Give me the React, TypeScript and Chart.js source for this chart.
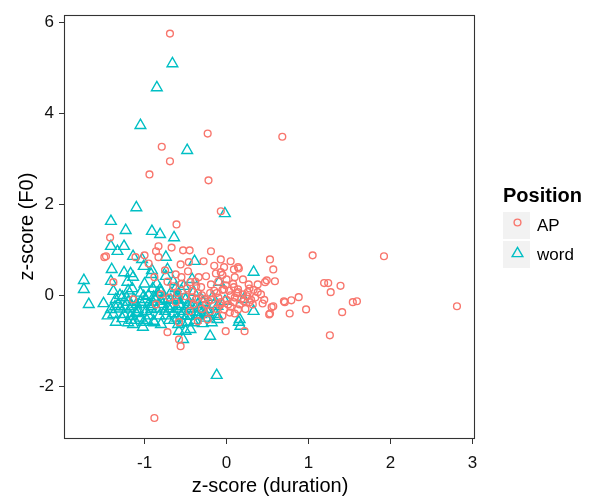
import React, { useEffect, useRef } from 'react';
import { Chart, registerables } from 'chart.js';
Chart.register(...registerables);

const seriesNames = ['AP', 'word'];
const xTickValues = [-1, 0, 1, 2, 3];
const yTickValues = [-2, 0, 2, 4, 6];
const xTitle = 'z-score (duration)';
const yTitle = 'z-score (F0)';
const legendTitle = 'Position';

const apPoints: [number, number][] = [
  [-0.69,5.76],[-0.23,3.56],[0.68,3.49],[-0.79,3.27],[-0.69,2.95],[-0.94,2.66],[-0.22,2.53],[-0.07,1.85],[-0.61,1.56],[-1.42,1.27],
  [-1.47,0.86],[1.05,0.88],[1.92,0.86],[2.81,-0.24],[1.26,-0.88],[0.53,0.79],[0.57,0.57],[0.49,0.33],[0.59,0.31],[0.47,0.29],
  [1.19,0.27],[1.24,0.27],[1.39,0.21],[1.27,0.07],[0.88,-0.04],[0.79,-0.11],[0.71,-0.15],[1.54,-0.15],[1.59,-0.13],[0.97,-0.31],
  [1.41,-0.37],[0.77,-0.40],[0.55,-0.26],[0.53,-0.40],[0.44,-0.18],[0.38,0.24],[0.27,0.24],[0.38,0.07],[0.22,-0.79],[0.15,0.59],
  [0.09,0.57],[0.05,0.75],[-0.88,-2.70],[-0.72,-0.81],[-0.58,-0.97],[-0.56,-1.12],[-0.07,0.79],[-0.03,0.62],[0.14,0.62],[-0.07,0.51],
  [-0.01,0.22],[0.09,0.18],[0.14,0.13],[-0.83,1.08],[-0.86,0.97],[-0.67,1.05],[-0.53,0.99],[-0.45,0.99],[-0.19,0.97],[-0.83,0.84],
  [-0.56,0.68],[-0.46,0.73],[-0.47,0.53],[-0.62,0.46],[-0.88,0.40],[-0.13,0.48],[-0.25,0.42],[-0.34,0.40],[-0.44,0.29],[-0.19,0.24],
  [-0.37,0.20],[-0.31,0.18],[-1.49,0.84],[-1.11,0.84],[-1.00,0.88],[-1.38,0.29],[-1.14,-0.09],[-0.86,-0.20],[-0.62,-0.15],[-0.37,-0.09],
  [-0.22,-0.13],[-0.23,-0.53],[-0.35,-0.57],[-0.58,-0.59],[-0.80,0.02],[-0.70,-0.05],[-0.60,0.05],[-0.50,-0.02],[-0.42,0.10],[-0.30,0.00],
  [-0.20,0.05],[-0.10,-0.05],[-0.05,0.12],[-0.03,0.13],[0.14,0.07],[0.26,0.07],[0.09,-0.15],[0.21,-0.13],[0.32,-0.20],[0.57,-0.24],
  [0.70,-0.13],[0.52,-0.42],[0.14,-0.31],[-0.03,-0.31],[-0.01,-0.79],[0.00,-0.10],[0.05,0.00],[0.10,-0.05],[0.12,0.05],[0.18,-0.08],
  [0.20,0.02],[0.25,-0.02],[0.30,-0.10],[0.02,-0.20],[-0.08,-0.22],[0.05,-0.25],[0.10,-0.40],[-0.12,-0.30],[-0.15,0.10],[-0.25,-0.20],
  [-0.30,-0.30],[-0.40,-0.20],[-0.45,-0.35],[0.28,0.15],[0.35,-0.05],[-0.10,0.30],[0.00,0.35],[-0.05,-0.45],[-0.95,0.70],[-0.75,0.55],
  [-0.15,0.65],[-0.28,0.75],[0.20,0.35],[0.10,0.40],[-0.55,0.25],[-0.65,0.20],[-0.72,0.30],
  [-0.42,-0.05],[-0.35,0.05],[-0.27,-0.08],[-0.18,-0.10],[-0.12,0.05],[-0.07,-0.15],[0.03,0.10],[0.08,0.25],[0.16,-0.20],[0.23,-0.30],
  [0.28,-0.15],[0.33,0.12],[0.42,0.02],[0.46,-0.10],[-0.55,0.40],[-0.48,0.15],[-0.38,0.30],[-0.05,0.45],[0.04,-0.38],[-0.20,-0.35],
];

const wordPoints: [number, number][] = [
  [-0.66,5.10],[-0.85,4.57],[-1.05,3.74],[-0.48,3.19],[-1.10,1.93],[-1.41,1.63],[-0.02,1.80],[-1.23,1.43],[-0.91,1.41],[-0.81,1.34],
  [-0.64,1.27],[-1.41,1.08],[-1.25,1.08],[-1.33,0.97],[-1.14,0.86],[-0.74,0.84],[-1.03,0.79],[-0.39,0.75],[-1.01,0.64],[-1.40,0.57],
  [-0.91,0.55],[-0.72,0.57],[-1.17,0.48],[-1.14,0.40],[-1.74,0.33],[-1.41,0.31],[-1.21,0.29],[0.33,0.51],[-1.74,0.13],[-1.68,-0.20],
  [-1.50,-0.18],[-1.38,0.09],[-1.35,-0.09],[-1.27,-0.04],[-1.13,-0.09],[-1.01,-0.02],[-0.89,-0.04],[-0.80,0.07],[-0.77,-0.09],[-0.59,-0.09],
  [-0.40,0.07],[-0.31,-0.09],[-0.17,-0.04],[0.21,-0.09],[0.33,-0.35],[-1.41,-0.31],[-1.38,-0.42],[-1.25,-0.42],[-1.17,-0.46],[-1.08,-0.31],
  [-1.35,-0.59],[-1.14,-0.64],[-1.01,-0.59],[-0.89,-0.57],[-0.80,-0.64],[-0.59,-0.64],[-0.47,-0.59],[-0.31,-0.42],[-0.11,-0.46],[0.15,-0.59],
  [-0.58,-0.79],[-0.20,-0.90],[-0.53,-0.97],[-0.92,-0.31],[-0.72,-0.24],[-0.47,-0.24],[-0.37,-0.37],[-0.23,-0.31],[-0.11,-0.24],[0.17,-0.68],
  [-0.12,-1.76],[-0.09,0.29],[-0.92,0.46],[-0.74,0.42],[-0.90,0.15],[-0.81,0.13],[-0.62,0.15],[-1.27,-0.51],[-1.16,-0.55],[-1.08,-0.37],
  [-0.44,-0.75],[-0.50,-0.79],[-0.23,-0.37],[-0.13,-0.42],[-0.11,-0.53],[-0.41,-0.20],[-0.44,-0.46],[-0.99,-0.09],[-0.90,-0.15],[-0.80,-0.13],
  [-0.72,-0.11],[-0.66,-0.24],[-0.58,-0.20],[-0.02,-0.13],[0.16,-0.53],[-1.30,0.00],[-1.20,-0.15],[-1.10,-0.20],[-1.05,0.05],[-0.95,-0.20],
  [-0.85,-0.30],[-0.75,-0.35],[-0.65,-0.40],[-0.55,-0.45],[-0.50,-0.10],[-0.45,-0.30],[-0.35,-0.20],[-0.25,-0.50],[-0.60,-0.50],[-0.70,-0.55],
  [-0.95,-0.45],[-1.05,-0.50],[-1.20,-0.60],[-1.30,-0.30],[-1.45,-0.45],[-0.85,0.25],[-1.00,0.25],[-1.15,0.15],[-1.25,0.50],[-0.65,0.30],
  [-0.55,0.10],[-1.20,0.10],[-1.10,-0.40],[-0.98,-0.35],[-0.82,-0.45],[-0.68,-0.10],[-0.52,-0.35],[-0.38,-0.55],[-0.28,-0.15],[-1.32,-0.20],
  [-1.18,-0.30],[-0.60,0.00],[-0.88,-0.60],[-0.60,-0.30],[-0.42,0.35],
  [-1.22,-0.05],[-1.15,-0.25],[-1.05,-0.15],[-0.95,0.00],[-0.92,-0.25],[-0.86,-0.08],[-0.78,-0.20],[-0.74,-0.45],[-0.70,-0.30],[-0.64,-0.55],
  [-0.62,-0.05],[-0.56,-0.25],[-0.54,-0.60],[-0.48,-0.45],[-0.46,-0.15],[-0.40,-0.60],[-0.36,-0.45],[-0.33,-0.30],[-0.29,-0.62],[-0.26,-0.40],
  [-1.02,-0.70],[-0.97,-0.55],[-1.12,-0.55],[-1.24,-0.25],[-1.36,-0.25],[-0.84,0.05],[-0.68,0.05],[-0.52,0.20],[-0.18,-0.60],[-0.15,-0.20],
];

const RED = '#F8766D';
const CYAN = '#00BFC4';
const FONT = "'Liberation Sans', Arial, sans-serif";

const panelPlugin = {
  id: 'panelAndLegend',
  afterDraw(chart: any) {
    const { ctx, chartArea } = chart;
    ctx.save();
    ctx.strokeStyle = '#333333';
    ctx.lineWidth = 1.1;
    ctx.strokeRect(Math.round(chartArea.left) - 0.5, Math.round(chartArea.top) + 0.5,
      Math.round(chartArea.right - chartArea.left), Math.round(chartArea.bottom - chartArea.top));

    // legend
    const lx = 502;
    const ty = 196;
    ctx.fillStyle = '#000';
    ctx.font = `bold 20px ${FONT}`;
    ctx.textAlign = 'left';
    ctx.textBaseline = 'middle';
    ctx.fillText(legendTitle, lx + 1, ty);
    const keyTops = [211, 240];
    const keySize = 29;
    seriesNames.forEach((name, i) => {
      const top = keyTops[i];
      ctx.fillStyle = '#F2F2F2';
      ctx.fillRect(lx, top, keySize, keySize);
      ctx.strokeStyle = '#FFFFFF';
      ctx.lineWidth = 1;
      ctx.strokeRect(lx + 0.5, top + 0.5, keySize - 1, keySize - 1);
      const cx = lx + keySize / 2 + 1;
      const cy = top + keySize / 2 - 1;
      ctx.lineWidth = 1.4;
      if (i === 0) {
        ctx.strokeStyle = RED;
        ctx.beginPath();
        ctx.arc(cx, cy - 2, 3.4, 0, Math.PI * 2);
        ctx.stroke();
      } else {
        ctx.strokeStyle = CYAN;
        const r = 6.2;
        ctx.beginPath();
        for (let k = 0; k < 3; k++) {
          const a = (k * 2 * Math.PI) / 3;
          const px = cx + Math.sin(a) * r;
          const py = cy - Math.cos(a) * r;
          if (k === 0) ctx.moveTo(px, py); else ctx.lineTo(px, py);
        }
        ctx.closePath();
        ctx.stroke();
      }
      ctx.fillStyle = '#000';
      ctx.font = `17px ${FONT}`;
      ctx.fillText(name, lx + 35, top + keySize / 2 + 1);
    });
    ctx.restore();
  },
};

export default function App() {
  const ref = useRef<HTMLCanvasElement>(null);
  useEffect(() => {
    document.body.style.margin = '0';
    const canvas = ref.current!;
    const chart = new Chart(canvas, {
      type: 'scatter',
      data: {
        datasets: [
          {
            label: seriesNames[0],
            data: apPoints.map(([x, y]) => ({ x, y })),
            pointStyle: 'circle',
            pointRadius: 3.4,
            pointBorderWidth: 1.4,
            borderColor: RED,
            backgroundColor: 'rgba(0,0,0,0)',
          },
          {
            label: seriesNames[1],
            data: wordPoints.map(([x, y]) => ({ x, y })),
            pointStyle: 'triangle',
            pointRadius: 6.2,
            pointBorderWidth: 1.4,
            borderColor: CYAN,
            backgroundColor: 'rgba(0,0,0,0)',
          },
        ],
      },
      options: {
        responsive: false,
        animation: false,
        events: [],
        layout: { padding: { top: 15, right: 126, bottom: 0, left: 0 } },
        plugins: { legend: { display: false }, tooltip: { enabled: false } },
        scales: {
          x: {
            type: 'linear',
            min: -1.97,
            max: 3.03,
            afterBuildTicks: (s: any) => { s.ticks = xTickValues.map((v) => ({ value: v })); },
            afterFit: (s: any) => { s.height = 58; },
            grid: { drawOnChartArea: false, drawTicks: true, tickLength: 6, tickColor: '#333333', tickWidth: 1 },
            border: { display: false },
            ticks: { color: '#111', font: { size: 17, family: FONT }, padding: 9, maxRotation: 0, includeBounds: false },
            title: { display: true, text: xTitle, color: '#000', font: { size: 20, family: FONT, lineHeight: 1 }, padding: { top: 0, bottom: 0 } },
          },
          y: {
            type: 'linear',
            min: -3.14,
            max: 6.165,
            afterBuildTicks: (s: any) => { s.ticks = yTickValues.map((v) => ({ value: v })); },
            afterFit: (s: any) => { s.width = 65; },
            grid: { drawOnChartArea: false, drawTicks: true, tickLength: 6, tickColor: '#333333', tickWidth: 1 },
            border: { display: false },
            ticks: { color: '#111', font: { size: 17, family: FONT }, padding: 5, includeBounds: false },
            title: { display: true, text: yTitle, color: '#000', font: { size: 20, family: FONT, lineHeight: 1.2 }, padding: { top: 15, bottom: 0 } },
          },
        },
      },
      plugins: [panelPlugin],
    } as any);
    return () => chart.destroy();
  }, []);
  return (
    <div style={{ width: 601, height: 496 }}>
      <canvas ref={ref} width={601} height={496} style={{ display: 'block' }} />
    </div>
  );
}
